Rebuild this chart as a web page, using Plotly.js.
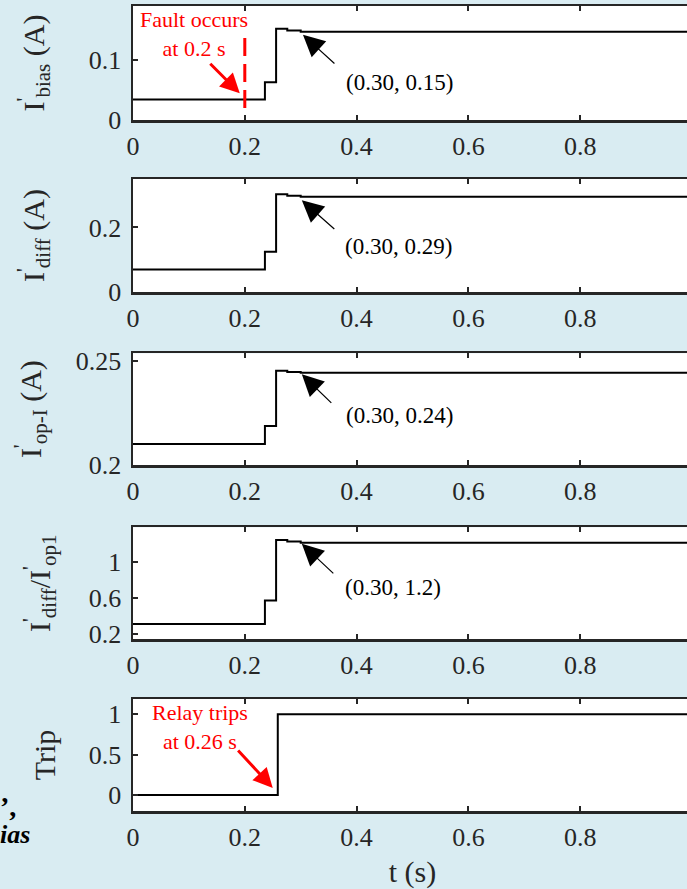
<!DOCTYPE html>
<html>
<head>
<meta charset="utf-8">
<script src="https://cdn.plot.ly/plotly-3.0.1.min.js"></script>
<style>
html,body{margin:0;padding:0;overflow:hidden;background:#d9ecf2;}
#chart{width:700px;height:889px;}
</style>
</head>
<body>
<div id="chart"></div>
<script>
// ---- data ----
const t        = [0, 0.236, 0.256, 0.276, 0.30, 1.0];
const iBias    = [0.034, 0.063, 0.152, 0.149, 0.147, 0.147];
const iDiff    = [0.070, 0.125, 0.303, 0.298, 0.295, 0.295];
const iOp1     = [0.2101, 0.2188, 0.2453, 0.2447, 0.2444, 0.2444];
const ratio    = [0.311, 0.573, 1.248, 1.230, 1.218, 1.218];
const tripT    = [0, 0.259, 1.0];
const trip     = [0, 1, 1];
const xTicks   = [0, 0.2, 0.4, 0.6, 0.8];
const xTickTxt = ['0', '0.2', '0.4', '0.6', '0.8'];
const faultT   = 0.2;

const FONT = 'Liberation Serif';
const INK = '#262626';
const W = 700, H = 889, ML = 133, MR = 8;
const PW = W - ML - MR;

const traces = [
  {x: t, y: iBias, xaxis: 'x', yaxis: 'y'},
  {x: t, y: iDiff, xaxis: 'x2', yaxis: 'y2'},
  {x: t, y: iOp1, xaxis: 'x3', yaxis: 'y3'},
  {x: t, y: ratio, xaxis: 'x4', yaxis: 'y4'},
  {x: tripT, y: trip, xaxis: 'x5', yaxis: 'y5'}
].map(tr => Object.assign(tr, {
  type: 'scatter', mode: 'lines',
  line: {shape: 'hv', color: '#000', width: 2},
  hoverinfo: 'skip', showlegend: false
}));

function dom(top, bot) { return [1 - bot / H, 1 - top / H]; }

function xa(anchor, withTitle) {
  const a = {
    anchor: anchor, range: [0, 1], tickvals: xTicks, ticktext: xTickTxt,
    ticks: 'inside', ticklen: 5, tickwidth: 2, tickcolor: INK,
    showline: true, linewidth: 2.5, linecolor: INK, mirror: 'allticks',
    showgrid: false, zeroline: false, fixedrange: true,
    tickfont: {family: FONT, size: 26, color: INK},
    ticklabelstandoff: 1
  };
  if (withTitle) a.title = {text: 't (s)', font: {family: FONT, size: 30, color: INK}, standoff: 14};
  return a;
}
function ya(anchor, d, range, tv, tt, title, so) {
  return {
    anchor: anchor, domain: d, range: range, tickvals: tv, ticktext: tt,
    ticks: 'inside', ticklen: 5, tickwidth: 2, tickcolor: INK,
    showline: true, linewidth: 2.5, linecolor: INK, mirror: 'allticks',
    showgrid: false, zeroline: false, fixedrange: true,
    tickfont: {family: FONT, size: 26, color: INK},
    ticklabelstandoff: 4,
    title: {text: title, font: {family: FONT, size: 30, color: INK}, standoff: so}
  };
}

const layout = {
  width: W, height: H,
  margin: {l: ML, r: MR, t: 0, b: 0},
  paper_bgcolor: '#d9ecf2', plot_bgcolor: '#ffffff',
  showlegend: false,
  xaxis: xa('y'), xaxis2: xa('y2'), xaxis3: xa('y3'), xaxis4: xa('y4'), xaxis5: xa('y5', true),
  yaxis:  ya('x',  dom(6, 120),     [0, 0.19],     [0, 0.1],        ['0', '0.1'],        'I<sup>\'</sup><sub>bias</sub> (A)', 36),
  yaxis2: ya('x2', dom(179, 292),   [0, 0.35],     [0, 0.2],        ['0', '0.2'],        'I<sup>\'</sup><sub>diff</sub> (A)', 36),
  yaxis3: ya('x3', dom(353.3, 465), [0.2, 0.2537], [0.2, 0.25],     ['0.2', '0.25'],     'I<sup>\'</sup><sub>op-I</sub> (A)', 26),
  yaxis4: ya('x4', dom(527.3, 639.3), [0.141, 1.389], [0.2, 0.6, 1], ['0.2', '0.6', '1'], 'I<sup>\'</sup><sub>diff</sub>/I<sup>\'</sup><sub>op1</sub>', 30),
  yaxis5: ya('x5', dom(699, 811),   [-0.2, 1.19],  [0, 0.5, 1],     ['0', '0.5', '1'],   'Trip', 25),
  shapes: [
    {type: 'line', xref: 'x', yref: 'y', x0: faultT, x1: faultT, y0: 0.02, y1: 0.148,
     line: {color: '#ff0000', width: 3, dash: '18px,8px'}}
  ],
  annotations: []
};

const blackArrow = {showarrow: true, arrowhead: 2, arrowsize: 3.6, arrowwidth: 1.2, arrowcolor: '#000', text: ''};
const redArrow = {showarrow: true, arrowhead: 2, arrowsize: 1.3, arrowwidth: 3, arrowcolor: '#ff0000', text: ''};
const coordFont = {family: FONT, size: 23, color: '#000'};
const redFont = {family: FONT, size: 22, color: '#ff0000'};

layout.annotations.push(
  Object.assign({xref: 'x', yref: 'y', x: 0.304, y: 0.142, ax: 33, ay: 30}, blackArrow),
  Object.assign({xref: 'x2', yref: 'y2', x: 0.302, y: 0.284, ax: 34, ay: 30}, blackArrow),
  Object.assign({xref: 'x3', yref: 'y3', x: 0.302, y: 0.2436, ax: 31, ay: 30}, blackArrow),
  Object.assign({xref: 'x4', yref: 'y4', x: 0.302, y: 1.205, ax: 33, ay: 31}, blackArrow),
  {xref: 'x', yref: 'y', x: 0.476, y: 0.0633, text: '(0.30, 0.15)', showarrow: false, font: coordFont},
  {xref: 'x2', yref: 'y2', x: 0.4755, y: 0.140, text: '(0.30, 0.29)', showarrow: false, font: coordFont},
  {xref: 'x3', yref: 'y3', x: 0.476, y: 0.224, text: '(0.30, 0.24)', showarrow: false, font: coordFont},
  {xref: 'x4', yref: 'y4', x: 0.465, y: 0.714, text: '(0.30, 1.2)', showarrow: false, font: coordFont},
  Object.assign({xref: 'x', yref: 'y', x: 0.191, y: 0.0445, ax: -31, ay: -31}, redArrow),
  Object.assign({xref: 'x5', yref: 'y5', x: 0.250, y: 0.086, ax: -36, ay: -39}, redArrow),
  {xref: 'x', yref: 'y', x: 0.110, y: 0.143, text: 'Fault occurs<br>at 0.2 s', showarrow: false, font: redFont},
  {xref: 'x5', yref: 'y5', x: 0.119, y: 0.846, text: 'Relay trips<br>at 0.26 s', showarrow: false, font: redFont},
  {xref: 'paper', yref: 'paper', x: (18 - ML) / PW, y: 1 - 806 / H, xanchor: 'right', yanchor: 'middle',
   text: '<b>\u2019,</b>', showarrow: false, font: {family: FONT, size: 28, color: '#000'}},
  {xref: 'paper', yref: 'paper', x: (-2 - ML) / PW, y: 1 - 834 / H, xanchor: 'left', yanchor: 'middle',
   text: '<b><i>ias</i></b>', showarrow: false, font: {family: FONT, size: 26, color: '#000'}}
);

Plotly.newPlot('chart', traces, layout, {staticPlot: true, displayModeBar: false});
</script>
</body>
</html>
